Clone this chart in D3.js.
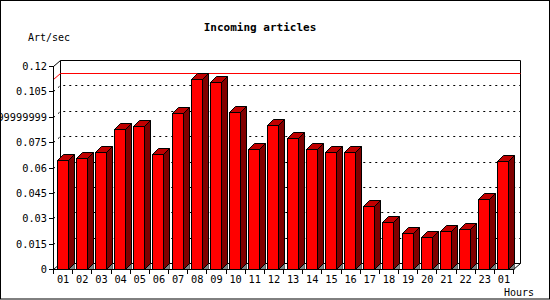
<!DOCTYPE html>
<html>
<head>
<meta charset="utf-8">
<script src="https://d3js.org/d3.v7.min.js"></script>
<style>
    body { margin: 0; background: #fff; }
    text { font-family: "DejaVu Sans Mono", monospace; }
</style>
</head>
<body>
<div id="chartContainer"></div>
<script>
///////////// Data /////////////////

const hours = ["01", "02", "03", "04", "05", "06", "07", "08", "09", "10", "11", "12",
    "13", "14", "15", "16", "17", "18", "19", "20", "21", "22", "23", "01"];

const artPerSec = [0.0642, 0.0658, 0.0694, 0.0830, 0.0848, 0.0682, 0.0921, 0.1126,
    0.1104, 0.0931, 0.0711, 0.0849, 0.0772, 0.0711, 0.0694, 0.0694, 0.0375, 0.0280,
    0.0213, 0.0190, 0.0225, 0.0237, 0.0415, 0.0638];

const yTicks = [0, 0.015, 0.03, 0.045, 0.06, 0.075, 0.09, 0.105, 0.12];
const yTickLabels = ["0", "0.015", "0.03", "0.045", "0.06", "0.075",
    "0.08999999999999999", "0.105", "0.12"];

///////////// Chart /////////////////

const width = 550;
const height = 300;
//front plane of the 3d box and how deep the back wall sits
const plot = { left: 53.5, right: 513.5, top: 66.5, bottom: 269.5 };
const wallDx = 7;
const wallDy = 6;
const barDepth = 6;

let svg = d3
    .select("#chartContainer")
    .append("svg")
    .attr("width", width)
    .attr("height", height);

//outer frame of the image
svg.append("rect")
    .attr("x", 0.5)
    .attr("y", 0.5)
    .attr("width", width - 1)
    .attr("height", height - 1.5)
    .attr("fill", "white")
    .attr("stroke", "black");

const x = d3
    .scaleBand()
    .domain(d3.range(hours.length))
    .range([plot.left, plot.right]);

const y = d3.scaleLinear().domain([0, 0.12]).range([plot.bottom, plot.top]);
//snap to the pixel grid so 1px lines stay sharp
const py = (v) => Math.round(y(v) - 0.5) + 0.5;

//title and axis captions
svg.append("text")
    .attr("x", 260)
    .attr("y", 31)
    .attr("text-anchor", "middle")
    .style("font-size", "11px")
    .style("font-weight", "bold")
    .text("Incoming articles");

svg.append("text")
    .attr("x", 28)
    .attr("y", 41)
    .style("font-size", "10px")
    .text("Art/sec");

svg.append("text")
    .attr("x", 504)
    .attr("y", 296)
    .style("font-size", "10px")
    .text("Hours");

let g = svg.append("g");

//back wall outline
const bx0 = plot.left + wallDx;
const bx1 = plot.right + wallDx;
g.append("path")
    .attr("d", `M${plot.left},${plot.top}L${bx0},${plot.top - wallDy}L${bx1},${plot.top - wallDy}` +
        `L${bx1},${plot.bottom - wallDy}L${plot.right},${plot.bottom}` +
        `M${bx0},${plot.top - wallDy}L${bx0},${plot.bottom - wallDy}L${plot.left},${plot.bottom}` +
        `M${bx0},${plot.bottom - wallDy}L${bx1},${plot.bottom - wallDy}`)
    .attr("fill", "none")
    .attr("stroke", "black");

//dotted grid on the back wall (runs along the left side too)
g.selectAll(".grid")
    .data(yTicks.filter((d) => d > 0 && d < 0.12))
    .enter()
    .append("path")
    .attr("class", "grid")
    .attr("d", (d) => `M${plot.left},${py(d)}L${bx0},${py(d) - wallDy}L${bx1},${py(d) - wallDy}`)
    .attr("fill", "none")
    .attr("stroke", "black")
    .attr("stroke-dasharray", "2,4");

//line at the maximum value
const maxVal = d3.max(artPerSec);
g.append("path")
    .attr("d", `M${plot.left},${py(maxVal)}L${bx0},${py(maxVal) - wallDy}L${bx1},${py(maxVal) - wallDy}`)
    .attr("fill", "none")
    .attr("stroke", "red");

//the bars: floor shadow, side, cap and front
let bars = g
    .selectAll(".bar")
    .data(artPerSec)
    .enter()
    .append("g")
    .attr("class", "bar");

const barX = (i) => Math.round(x(i) + 3) + 0.5;
const barW = 11;

bars.append("path")
    .attr("d", (d, i) => {
        let x1 = barX(i) + barW;
        return `M${x1},${plot.bottom}L${x1 + barDepth},${plot.bottom - barDepth}L${x1 + barDepth},${plot.bottom}Z`;
    })
    .attr("fill", "#808080")
    .attr("stroke", "black")
    .attr("stroke-width", 0.5);

bars.append("path")
    .attr("d", (d, i) => {
        let x1 = barX(i) + barW;
        let yt = py(d);
        return `M${x1},${yt}L${x1 + barDepth},${yt - barDepth}L${x1 + barDepth},${plot.bottom - barDepth}L${x1},${plot.bottom}Z`;
    })
    .attr("fill", "#800000")
    .attr("stroke", "black");

bars.append("path")
    .attr("d", (d, i) => {
        let x0 = barX(i);
        let yt = py(d);
        return `M${x0},${yt}L${x0 + barDepth},${yt - barDepth}L${x0 + barW + barDepth},${yt - barDepth}L${x0 + barW},${yt}Z`;
    })
    .attr("fill", "#c00000")
    .attr("stroke", "black");

bars.append("rect")
    .attr("x", (d, i) => barX(i))
    .attr("y", (d) => py(d))
    .attr("width", barW)
    .attr("height", (d) => plot.bottom - py(d))
    .attr("fill", "red")
    .attr("stroke", "black");

//front axes
g.append("path")
    .attr("d", `M${plot.left},${plot.top}L${plot.left},${plot.bottom}L${plot.right},${plot.bottom}`)
    .attr("fill", "none")
    .attr("stroke", "black")
    .attr("shape-rendering", "crispEdges");

//y ticks and labels
g.selectAll(".ytick")
    .data(yTicks)
    .enter()
    .append("line")
    .attr("class", "ytick")
    .attr("x1", plot.left - 5)
    .attr("x2", plot.left)
    .attr("y1", (d) => py(d))
    .attr("y2", (d) => py(d))
    .attr("stroke", "black")
    .attr("shape-rendering", "crispEdges");

svg.selectAll(".ylabel")
    .data(yTicks)
    .enter()
    .append("text")
    .attr("class", "ylabel")
    .attr("x", 47)
    .attr("y", (d) => y(d) + 3.5)
    .attr("text-anchor", "end")
    .style("font-size", "10.3px")
    .text((d, i) => yTickLabels[i]);

//x ticks at the band edges, labels in the middle
g.selectAll(".xtick")
    .data(d3.range(hours.length + 1))
    .enter()
    .append("line")
    .attr("class", "xtick")
    .attr("x1", (i) => Math.round(plot.left + i * x.bandwidth() - 0.5) + 0.5)
    .attr("x2", (i) => Math.round(plot.left + i * x.bandwidth() - 0.5) + 0.5)
    .attr("y1", plot.bottom)
    .attr("y2", plot.bottom + 4)
    .attr("stroke", "black")
    .attr("shape-rendering", "crispEdges");

svg.selectAll(".xlabel")
    .data(hours)
    .enter()
    .append("text")
    .attr("class", "xlabel")
    .attr("x", (d, i) => x(i) + x.bandwidth() / 2)
    .attr("y", 283)
    .attr("text-anchor", "middle")
    .style("font-size", "10.3px")
    .text((d) => d);
</script>
</body>
</html>
